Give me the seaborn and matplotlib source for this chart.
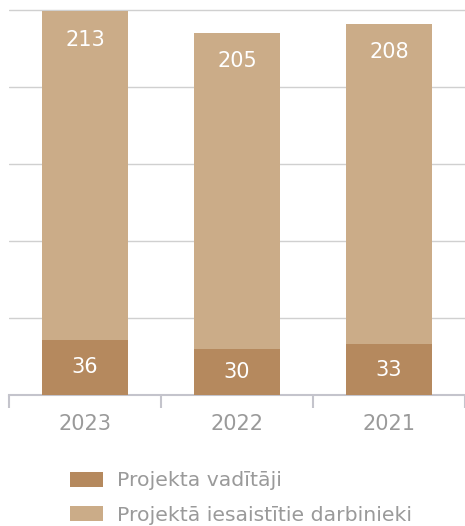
import matplotlib
matplotlib.use("Agg")
import matplotlib.pyplot as plt
import seaborn as sns
import pandas as pd

years = ["2023", "2022", "2021"]
leaders = [36, 30, 33]
involved = [213, 205, 208]
series_names = ["Projekta vadītāji", "Projektā iesaistītie darbinieki"]

dark = "#b5895e"
light = "#cbac88"
grey_text = "#9a9a9a"

sns.set_theme(style="white")
plt.rcParams["font.family"] = ["DejaVu Sans"]

df = pd.DataFrame({"year": years, "leaders": leaders, "involved": involved})
df["total"] = df["leaders"] + df["involved"]

fig = plt.figure(figsize=(4.65, 5.26), dpi=100)
ax = fig.add_axes([9 / 465, 1 - 395 / 526, 456 / 465, 392 / 526])

sns.barplot(data=df, x="year", y="total", color=light, width=0.566,
            saturation=1, ax=ax, label=series_names[1], zorder=3,
            linewidth=0)
sns.barplot(data=df, x="year", y="leaders", color=dark, width=0.566,
            saturation=1, ax=ax, label=series_names[0], zorder=3,
            linewidth=0)

ax.bar_label(ax.containers[0], labels=[str(v) for v in involved],
             padding=-27.5, color="white", fontsize=15)
ax.bar_label(ax.containers[1], labels=[str(v) for v in leaders],
             label_type="center", color="white", fontsize=15)

ax.set_xlim(-0.5, 2.5)
ax.set_ylim(0, 254.5)
ax.set_yticks([50, 100, 150, 200, 250])
ax.yaxis.grid(True, color="#d0d0d0", linewidth=1, zorder=0)
ax.tick_params(axis="y", left=False, labelleft=False)
ax.set_xlabel("")
ax.set_ylabel("")
ax.set_xticks([0, 1, 2])
ax.set_xticks([-0.5, 0.5, 1.5, 2.5], minor=True)
ax.tick_params(axis="x", which="major", length=0, pad=14,
               labelsize=15, labelcolor=grey_text)
ax.tick_params(axis="x", which="minor", bottom=True, length=9,
               width=1.5, color="#c4c4cc")
for side in ["top", "right", "left"]:
    ax.spines[side].set_visible(False)
ax.spines["bottom"].set_color("#c4c4cc")
ax.spines["bottom"].set_linewidth(1.5)

handles, labels = ax.get_legend_handles_labels()
if ax.get_legend() is not None:
    ax.get_legend().remove()
order = [labels.index(n) for n in series_names]
fig.legend([handles[i] for i in order], [labels[i] for i in order],
           loc="upper left", bbox_to_anchor=(52 / 465, 1 - 453 / 526),
           frameon=False, fontsize=14.7, labelcolor=grey_text,
           handlelength=1.6, handleheight=0.75, handletextpad=0.7,
           labelspacing=0.75)

fig.savefig("out.png", dpi=100)
